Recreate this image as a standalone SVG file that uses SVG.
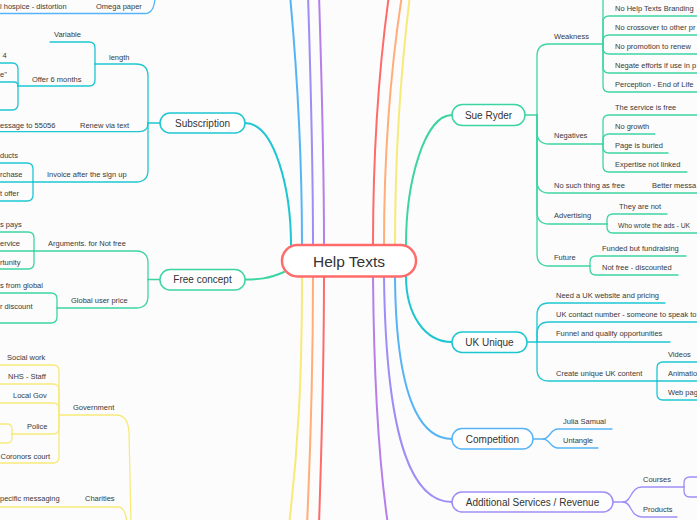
<svg xmlns="http://www.w3.org/2000/svg" width="697" height="520" viewBox="0 0 697 520">
<style>
.t{font-family:"Liberation Sans",Arial,sans-serif;font-size:7.5px;fill:#3a3a3a}
.n{font-family:"Liberation Sans",Arial,sans-serif;font-size:10px;fill:#333;text-anchor:middle}
.c{fill:none;stroke-linecap:round;stroke-linejoin:round}
.m{stroke-width:2}
.s{stroke-width:1.3}
.teal{stroke:#1DC6D1}
.green{stroke:#3DD4A4}
.blue{stroke:#56B4F6}
.violet{stroke:#9D8DF6}
.purple{stroke:#B77FE9}
.red{stroke:#FF6B6B}
.orange{stroke:#FFAE7A}
.yellow{stroke:#F7EA7A}
.box{fill:#fff;stroke-width:1.5}
</style>
<rect x="0" y="0" width="697" height="520" fill="#fcfcfc"/>

<g id="connectors">
  <!-- main branches from central node -->
  <path class="c m teal" d="M291,245 C291,190 275,123 245,123"/>
  <path class="c m green" d="M284,272 C268,279 258,279.5 245,279.5"/>
  <path class="c m blue" d="M302,245 C302,150 296,60 290,-5"/>
  <path class="c m violet" d="M313,245 C313,150 310,60 308,-5"/>
  <path class="c m purple" d="M324,245 C324,150 321,60 319,-5"/>
  <path class="c m red" d="M373,245 C373,150 380,60 389,-5"/>
  <path class="c m orange" d="M384,245 C384,150 392,60 402,-5"/>
  <path class="c m yellow" d="M395,245 C395,150 402,60 410,-5"/>
  <path class="c m green" d="M406,245 C406,180 425,115 452,115"/>
  <path class="c m teal" d="M406,276 C406,315 425,342 452,342"/>
  <path class="c m blue" d="M395,276 C396,420 430,439 452,439"/>
  <path class="c m violet" d="M384,276 C386,450 415,502 452,502"/>
  <path class="c m purple" d="M373,276 C374,400 380,470 388,525"/>
  <path class="c m yellow" d="M302,276 C302,380 298,450 289,525"/>
  <path class="c m orange" d="M313,276 C313,380 310,460 307,525"/>
  <path class="c m red" d="M324,276 C324,380 321,460 319,525"/>

  <!-- top-left blue -->
  <path class="c s blue" d="M-5,13.5 H145 Q154,13.5 155,-2"/>

  <!-- Subscription subtree -->
  <path class="c s teal" d="M160,123 H148"/>
  <path class="c s teal" d="M148,123 V76 Q148,64 136,64 H95"/>
  <path class="c s teal" d="M148,123 Q148,131.7 139,131.7 H-5"/>
  <path class="c s teal" d="M148,123 V170 Q148,182 136,182 H33"/>
  <path class="c s teal" d="M95,64 V48 Q95,42 89,42 H50"/>
  <path class="c s teal" d="M95,64 V80 Q95,86 89,86 H18"/>
  <path class="c s teal" d="M18,86 V69 Q18,63 12,63 H-5"/>
  <path class="c s teal" d="M18,86 Q18,82 14,82 H-5"/>
  <path class="c s teal" d="M18,86 V104 Q18,110 12,110 H-5"/>
  <path class="c s teal" d="M33,182 V169 Q33,163 27,163 H-5"/>
  <path class="c s teal" d="M33,182 H-5"/>
  <path class="c s teal" d="M33,182 V195 Q33,201 27,201 H-5"/>

  <!-- Free concept subtree -->
  <path class="c s green" d="M160,279.5 H148"/>
  <path class="c s green" d="M148,279.5 V263 Q148,251 136,251 H34"/>
  <path class="c s green" d="M148,279.5 V296 Q148,308 136,308 H57"/>
  <path class="c s green" d="M34,251 V238 Q34,232 28,232 H-5"/>
  <path class="c s green" d="M34,251 H-5"/>
  <path class="c s green" d="M34,251 V263 Q34,269 28,269 H-5"/>
  <path class="c s green" d="M57,308 V299 Q57,293 51,293 H-5"/>
  <path class="c s green" d="M57,308 V317 Q57,323 51,323 H-5"/>

  <!-- Government / Charities (yellow) -->
  <path class="c s yellow" d="M59,415 H116 Q128,415 129,432 L131,525"/>
  <path class="c s yellow" d="M-5,507 H118 Q126,507 127,525"/>
  <path class="c s yellow" d="M59,415 V371 Q59,365 53,365 H-5"/>
  <path class="c s yellow" d="M59,415 V390 Q59,384 53,384 H-5"/>
  <path class="c s yellow" d="M59,415 V409 Q59,403 53,403 H-5"/>
  <path class="c s yellow" d="M59,415 V428 Q59,434 53,434 H12"/>
  <path class="c s yellow" d="M59,415 V457 Q59,463 53,463 H-5"/>
  <path class="c s yellow" d="M12,434 V429 Q12,424 7,424 H-5"/>
  <path class="c s yellow" d="M12,434 V438 Q12,443 7,443 H-5"/>

  <!-- Sue Ryder subtree -->
  <path class="c s green" d="M525,115 H537"/>
  <path class="c s green" d="M537,115 V56 Q537,44 549,44 H603"/>
  <path class="c s green" d="M537,115 V132 Q537,144 549,144 H603"/>
  <path class="c s green" d="M537,115 V181 Q537,193 549,193 H702"/>
  <path class="c s green" d="M537,115 V212 Q537,224 549,224 H607"/>
  <path class="c s green" d="M537,115 V254 Q537,266 549,266 H590"/>
  <path class="c s green" d="M603,44 V-5"/>
  <path class="c s green" d="M603,44 V22 Q603,16 609,16 H702"/>
  <path class="c s green" d="M603,44 V41 Q603,35 609,35 H702"/>
  <path class="c s green" d="M603,44 V48 Q603,54 609,54 H702"/>
  <path class="c s green" d="M603,44 V67 Q603,73 609,73 H702"/>
  <path class="c s green" d="M603,44 V86 Q603,92 609,92 H702"/>
  <path class="c s green" d="M603,144 V121 Q603,115 609,115 H702"/>
  <path class="c s green" d="M603,144 V140 Q603,134 609,134 H655"/>
  <path class="c s green" d="M603,144 V147 Q603,153 609,153 H668"/>
  <path class="c s green" d="M603,144 V166 Q603,172 609,172 H687"/>
  <path class="c s green" d="M607,224 V220 Q607,214 613,214 H667"/>
  <path class="c s green" d="M607,224 V227 Q607,233 613,233 H702"/>
  <path class="c s green" d="M590,266 V262 Q590,256 596,256 H686"/>
  <path class="c s green" d="M590,266 V269 Q590,275 596,275 H678"/>

  <!-- UK Unique subtree -->
  <path class="c s teal" d="M527,342 H537"/>
  <path class="c s teal" d="M537,342 V315 Q537,303 549,303 H665"/>
  <path class="c s teal" d="M537,342 V334 Q537,322 549,322 H702"/>
  <path class="c s teal" d="M537,342 H670"/>
  <path class="c s teal" d="M537,342 V369 Q537,381 549,381 H657"/>
  <path class="c s teal" d="M657,381 V368 Q657,362 663,362 H702"/>
  <path class="c s teal" d="M657,381 H702"/>
  <path class="c s teal" d="M657,381 V394 Q657,400 663,400 H702"/>

  <!-- Competition subtree -->
  <path class="c s blue" d="M533,439 H543 C550,439 550,429 558,429 H612"/>
  <path class="c s blue" d="M543,439 C550,439 550,448 558,448 H598"/>

  <!-- Additional Services subtree -->
  <path class="c s violet" d="M613,502 H623 C632,502 630,487 642,487 H684"/>
  <path class="c s violet" d="M623,502 C632,502 630,517 642,517 H677"/>
  <path class="c s violet" d="M684,487 V483 Q684,477 690,477 H702"/>
  <path class="c s violet" d="M684,487 V491 Q684,497 690,497 H702"/>
</g>

<g id="help-texts">
  <rect x="282" y="245" width="134" height="31.5" rx="15.5" fill="#fff" stroke="#FF6B6B" stroke-width="2.5"/>
  <text x="349" y="266.5" font-family="Liberation Sans, Arial, sans-serif" font-size="15.5" fill="#333" text-anchor="middle">Help Texts</text>
</g>

<g id="subscription">
  <rect class="box teal" x="160" y="113" width="85" height="20" rx="10"/>
  <text class="n" x="202.5" y="126.5">Subscription</text>
</g>
<g id="free-concept">
  <rect class="box green" x="160" y="269.5" width="85" height="20.5" rx="10"/>
  <text class="n" x="202.5" y="283">Free concept</text>
</g>
<g id="sue-ryder">
  <rect class="box green" x="452" y="104.5" width="73" height="21" rx="10.5"/>
  <text class="n" x="488.5" y="118.5">Sue Ryder</text>
</g>
<g id="uk-unique">
  <rect class="box teal" x="452" y="332" width="75" height="20.5" rx="10"/>
  <text class="n" x="489.5" y="345.5">UK Unique</text>
</g>
<g id="competition">
  <rect class="box blue" x="452" y="428.5" width="81" height="20.5" rx="10"/>
  <text class="n" x="492.5" y="442.5">Competition</text>
</g>
<g id="additional-services">
  <rect class="box violet" x="452" y="492" width="161" height="20" rx="10"/>
  <text class="n" x="532.5" y="505.5">Additional Services / Revenue</text>
</g>

<g id="labels-left">
  <text class="t" x="0" y="9.3">l hospice - distortion</text>
  <text class="t" x="96" y="9.3">Omega paper</text>
  <text class="t" x="54" y="37">Variable</text>
  <text class="t" x="109" y="60.3">length</text>
  <text class="t" x="2.5" y="58.3">4</text>
  <text class="t" x="0" y="76.6">e"</text>
  <text class="t" x="32" y="82.3">Offer 6 months</text>
  <text class="t" x="0" y="128.3">essage to 55056</text>
  <text class="t" x="80" y="128.3">Renew via text</text>
  <text class="t" x="0" y="158">ducts</text>
  <text class="t" x="0" y="177">rchase</text>
  <text class="t" x="47" y="177">Invoice after the sign up</text>
  <text class="t" x="0" y="196">t offer</text>
  <text class="t" x="0" y="227.3">s pays</text>
  <text class="t" x="0" y="246.3">ervice</text>
  <text class="t" x="48" y="246.3">Arguments. for Not free</text>
  <text class="t" x="0" y="265.3">rtunity</text>
  <text class="t" x="0" y="288">s from global</text>
  <text class="t" x="71" y="303.3">Global user price</text>
  <text class="t" x="0" y="309.3">r discount</text>
  <text class="t" x="7" y="360">Social work</text>
  <text class="t" x="8" y="379">NHS - Staff</text>
  <text class="t" x="13" y="398">Local Gov</text>
  <text class="t" x="73" y="410.3">Government</text>
  <text class="t" x="27" y="429">Police</text>
  <text class="t" x="0.5" y="459.3">Coronors court</text>
  <text class="t" x="0" y="501.3">pecific messaging</text>
  <text class="t" x="85" y="501.3">Charities</text>
</g>

<g id="labels-right">
  <text class="t" x="615" y="10.9">No Help Texts Branding</text>
  <text class="t" x="615" y="30">No crossover to other pr</text>
  <text class="t" x="554" y="38.6">Weakness</text>
  <text class="t" x="615" y="49">No promotion to renew</text>
  <text class="t" x="615" y="68">Negate efforts if use in p</text>
  <text class="t" x="615" y="87">Perception - End of Life</text>
  <text class="t" x="615" y="110">The service is free</text>
  <text class="t" x="615" y="129.3">No growth</text>
  <text class="t" x="554" y="138">Negatives</text>
  <text class="t" x="615" y="148">Page is buried</text>
  <text class="t" x="615" y="167">Expertise not linked</text>
  <text class="t" x="554" y="188">No such thing as free</text>
  <text class="t" x="652" y="188">Better messa</text>
  <text class="t" x="619" y="209.3">They are not</text>
  <text class="t" x="554" y="218.3">Advertising</text>
  <text class="t" x="618" y="228" style="font-size:6.8px">Who wrote the ads - UK</text>
  <text class="t" x="602" y="251">Funded but fundraising</text>
  <text class="t" x="554" y="260">Future</text>
  <text class="t" x="602" y="270">Not free - discounted</text>
  <text class="t" x="556" y="298">Need a UK website and pricing</text>
  <text class="t" x="556" y="317">UK contact number - someone to speak to</text>
  <text class="t" x="556" y="336">Funnel and qualify opportunities</text>
  <text class="t" x="668" y="357.3">Videos</text>
  <text class="t" x="556" y="376">Create unique UK content</text>
  <text class="t" x="668" y="376">Animatio</text>
  <text class="t" x="668" y="395">Web pag</text>
  <text class="t" x="563" y="424">Julia Samual</text>
  <text class="t" x="563" y="443.3">Untangle</text>
  <text class="t" x="643" y="482">Courses</text>
  <text class="t" x="643" y="512">Products</text>
</g>
</svg>
